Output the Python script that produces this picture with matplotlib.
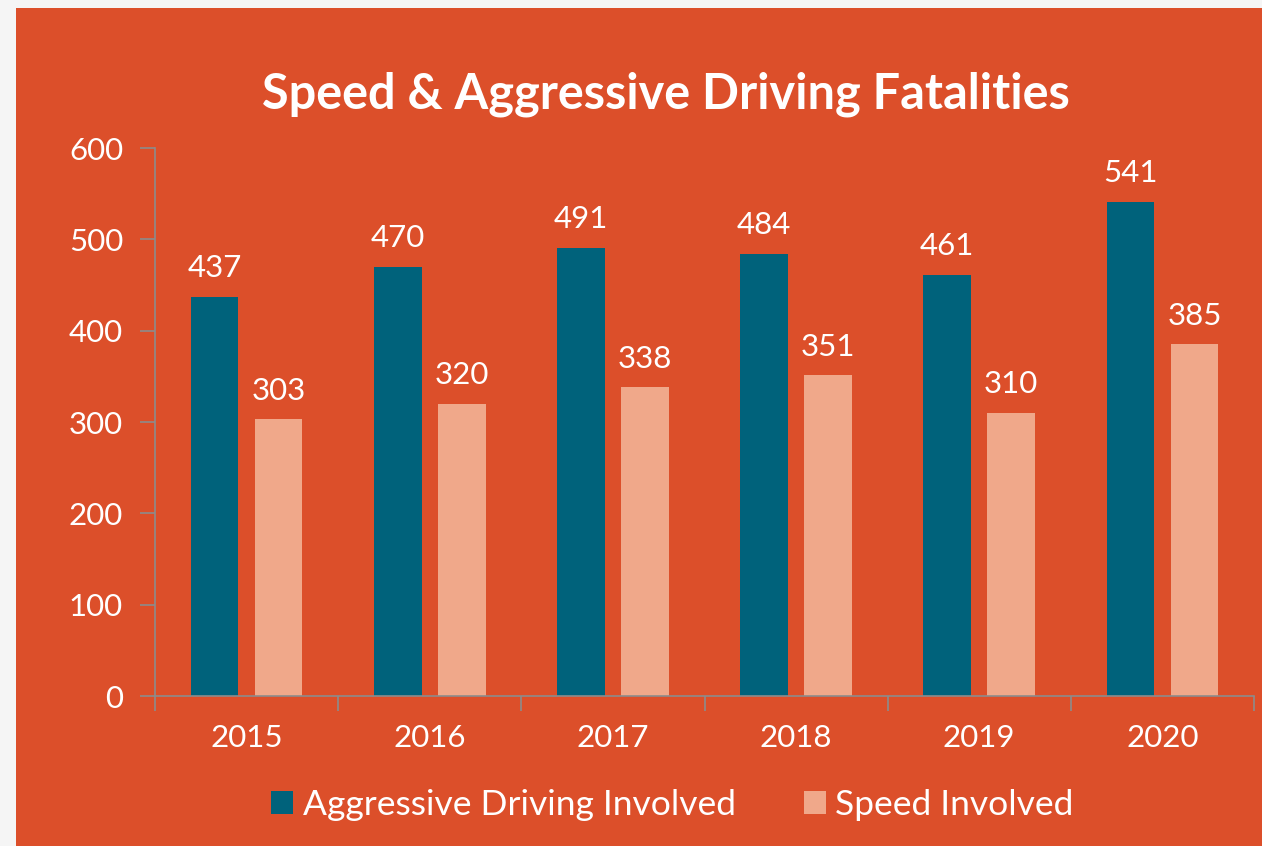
import matplotlib.pyplot as plt
import numpy as np

years = ['2015', '2016', '2017', '2018', '2019', '2020']
aggressive = [437, 470, 491, 484, 461, 541]
speed = [303, 320, 338, 351, 310, 385]

bg = '#DC4F2A'
dark = '#00627B'
light = '#F0A88A'
axis_col = '#8C8C8C'

plt.rcParams['font.family'] = ['Lato', 'DejaVu Sans']

fig = plt.figure(figsize=(12.62, 8.46), dpi=100, facecolor='#F5F5F5')
# orange panel behind everything
bgax = fig.add_axes([16 / 1262, 0, 1 - 16 / 1262, 838 / 846], zorder=-1)
bgax.set_facecolor(bg)
bgax.set_xticks([])
bgax.set_yticks([])
for s in bgax.spines.values():
    s.set_visible(False)

ax = fig.add_axes([155 / 1262, 150 / 846, 1099 / 1262, 548 / 846])
ax.set_facecolor('none')

x = np.arange(len(years))
w = 0.26
b1 = ax.bar(x - 0.175, aggressive, w, color=dark, label='Aggressive Driving Involved')
b2 = ax.bar(x + 0.175, speed, w, color=light, label='Speed Involved')

for bars in (b1, b2):
    for r in bars:
        ax.text(r.get_x() + r.get_width() / 2, r.get_height() + 16, str(int(r.get_height())),
                ha='center', va='bottom', color='white', fontsize=22.5)

ax.set_xlim(-0.5, 5.5)
ax.set_ylim(0, 600)
ax.set_yticks(range(0, 601, 100))
ax.set_xticks(x)
ax.set_xticklabels(years)
ax.set_xticks(np.arange(-0.5, 6, 1), minor=True)
ax.tick_params(axis='x', which='major', length=0, pad=20, labelsize=22.5, labelcolor='white')
ax.tick_params(axis='x', which='minor', length=11, color=axis_col, width=1.2)
ax.tick_params(axis='y', length=11, color=axis_col, width=1.2, pad=12, labelsize=22.5,
               labelcolor='white')
for s in ['top', 'right']:
    ax.spines[s].set_visible(False)
for s in ['left', 'bottom']:
    ax.spines[s].set_color(axis_col)
    ax.spines[s].set_linewidth(1.2)

fig.text(666 / 1262, 1 - 94 / 846, 'Speed & Aggressive Driving Fatalities',
         ha='center', va='center', color='white', fontsize=35, fontweight='bold')

leg = fig.legend(handles=[b1, b2], loc='center', bbox_to_anchor=(0.533, 41 / 846), ncol=2,
                 frameon=False, fontsize=25.5, handlelength=0.62, handleheight=0.62,
                 handletextpad=0.28, columnspacing=1.9)
for t in leg.get_texts():
    t.set_color('white')

fig.savefig('out.png', dpi=100, facecolor=fig.get_facecolor())
